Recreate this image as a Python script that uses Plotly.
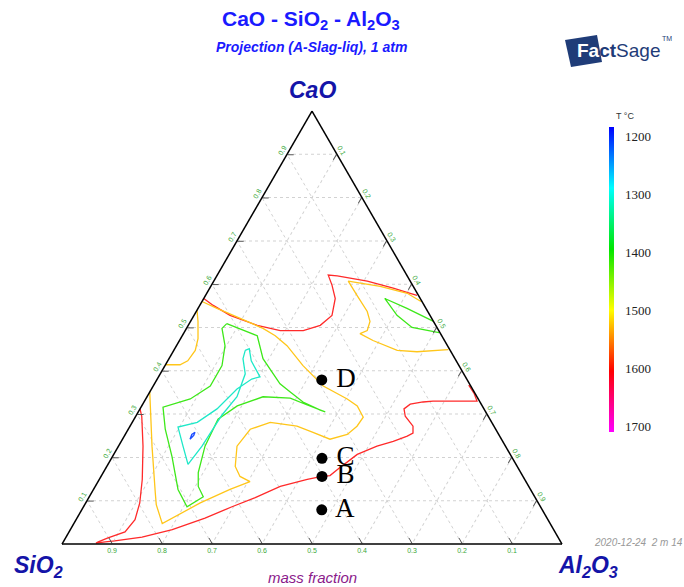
import plotly.graph_objects as go

# ---------------- data (mass fractions: CaO, Al2O3; SiO2 = 1 - CaO - Al2O3) -------------
iso1600_1_cao = [0.312, 0.295, 0.226, 0.149, 0.095, 0.056, 0.028, 0.014, 0.005, 0.002, 0.005, 0.007,
                 0.016, 0.033, 0.060, 0.086, 0.107, 0.133, 0.149, 0.156, 0.158, 0.177, 0.207, 0.226,
                 0.237, 0.249, 0.256, 0.272, 0.295, 0.312, 0.323, 0.328, 0.330, 0.330, 0.330, 0.347, 0.367]
iso1600_1_al2o3 = [0.000, 0.012, 0.049, 0.086, 0.108, 0.118, 0.112, 0.085, 0.070, 0.067, 0.084, 0.102,
                   0.152, 0.204, 0.256, 0.297, 0.333, 0.370, 0.416, 0.442, 0.457, 0.468, 0.487, 0.517,
                   0.544, 0.566, 0.574, 0.566, 0.539, 0.528, 0.535, 0.558, 0.577, 0.621, 0.665, 0.651, 0.630]

iso1600_2_cao = [0.567, 0.551, 0.528, 0.505, 0.493, 0.493, 0.505, 0.528, 0.567, 0.598, 0.621, 0.619,
                 0.607, 0.591, 0.579, 0.574]
iso1600_2_al2o3 = [0.000, 0.027, 0.072, 0.138, 0.190, 0.236, 0.264, 0.276, 0.263, 0.241, 0.222, 0.241,
                   0.307, 0.367, 0.407, 0.423]

iso1500_1_cao = [0.560, 0.579, 0.595, 0.607, 0.574, 0.537, 0.514, 0.493, 0.486, 0.470, 0.447, 0.444, 0.449]
iso1500_1_al2o3 = [0.438, 0.401, 0.339, 0.269, 0.303, 0.342, 0.359, 0.364, 0.353, 0.387, 0.447, 0.488, 0.548]

iso1500_2_cao = [0.560, 0.544, 0.521, 0.498, 0.481, 0.458, 0.412, 0.365, 0.335, 0.319, 0.293, 0.272,
                 0.253, 0.242, 0.258, 0.272, 0.281, 0.265, 0.226, 0.179, 0.156, 0.144, 0.126, 0.095,
                 0.047, 0.091, 0.119, 0.226, 0.351]
iso1500_2_al2o3 = [0.000, 0.038, 0.096, 0.153, 0.186, 0.221, 0.276, 0.340, 0.403, 0.431, 0.456, 0.454,
                   0.444, 0.415, 0.373, 0.334, 0.276, 0.244, 0.237, 0.257, 0.278, 0.304, 0.273, 0.229,
                   0.177, 0.143, 0.127, 0.067, 0.000]

iso1500_3_cao = [0.540, 0.514, 0.474, 0.447, 0.423, 0.414, 0.414]
iso1500_3_al2o3 = [0.000, 0.015, 0.035, 0.043, 0.040, 0.029, 0.000]

iso1400_1_cao = [0.514, 0.544, 0.567, 0.528, 0.500, 0.488]
iso1400_1_al2o3 = [0.486, 0.418, 0.362, 0.406, 0.450, 0.510]

iso1400_2_cao = [0.509, 0.498, 0.458, 0.412, 0.365, 0.335, 0.316, 0.265, 0.202, 0.126, 0.086, 0.109,
                 0.133, 0.165, 0.226, 0.288, 0.319, 0.340, 0.337, 0.321, 0.305, 0.309, 0.328, 0.351,
                 0.370, 0.428, 0.481, 0.509]
iso1400_2_al2o3 = [0.075, 0.071, 0.097, 0.114, 0.114, 0.089, 0.044, 0.074, 0.119, 0.169, 0.207, 0.228,
                   0.206, 0.190, 0.173, 0.168, 0.191, 0.232, 0.288, 0.330, 0.374, 0.362, 0.318, 0.281,
                   0.251, 0.188, 0.150, 0.075]

iso1300_cao = [0.447, 0.451, 0.423, 0.386, 0.381, 0.358, 0.312, 0.281, 0.270, 0.226, 0.184, 0.226,
               0.298, 0.340, 0.393, 0.428, 0.447]
iso1300_al2o3 = [0.143, 0.149, 0.167, 0.203, 0.189, 0.171, 0.154, 0.130, 0.097, 0.129, 0.160, 0.167,
                 0.171, 0.180, 0.170, 0.148, 0.143]

iso1200_cao = [0.242, 0.253, 0.258, 0.251, 0.242]
iso1200_al2o3 = [0.135, 0.133, 0.137, 0.138, 0.135]

point_labels = ["A", "B", "C", "D"]
point_cao = [0.079, 0.156, 0.198, 0.379]
point_al2o3 = [0.480, 0.442, 0.421, 0.330]

temp_ticks = [1200, 1300, 1400, 1500, 1600, 1700]
frac_ticks = [0.1, 0.2, 0.3, 0.4, 0.5, 0.6, 0.7, 0.8, 0.9]

# ---------------- styling -------------------------------------------------------------
iso_colors = {1600: "#ff2a2a", 1500: "#ffc61a", 1400: "#3ee81a", 1300: "#1ee8c8", 1200: "#1f4fff"}

isotherms = [
    (1600, iso1600_1_cao, iso1600_1_al2o3),
    (1600, iso1600_2_cao, iso1600_2_al2o3),
    (1500, iso1500_1_cao, iso1500_1_al2o3),
    (1500, iso1500_2_cao, iso1500_2_al2o3),
    (1500, iso1500_3_cao, iso1500_3_al2o3),
    (1400, iso1400_1_cao, iso1400_1_al2o3),
    (1400, iso1400_2_cao, iso1400_2_al2o3),
    (1300, iso1300_cao, iso1300_al2o3),
    (1200, iso1200_cao, iso1200_al2o3),
]

W, H = 684, 587

fig = go.Figure()

for T, cao, al in isotherms:
    sio2 = [round(1 - a - c, 4) for a, c in zip(cao, al)]
    fig.add_trace(go.Scatterternary(
        a=cao, b=sio2, c=al, mode="lines",
        line=dict(color=iso_colors[T], width=1.3),
        hoverinfo="skip", showlegend=False))

fig.add_trace(go.Scatterternary(
    a=point_cao, b=[1 - a - c for a, c in zip(point_cao, point_al2o3)], c=point_al2o3,
    mode="markers+text", text=[" " + t for t in point_labels],
    textposition="middle right",
    textfont=dict(family="Liberation Serif", size=27, color="black"),
    marker=dict(color="black", size=11),
    showlegend=False, hoverinfo="skip"))

# colour scale legend (negative values so that 1200 sits on top)
cb_top, cb_bottom = -1183, -1709
cscale = [[0.0, "#ff00ff"], [0.2, "#ff0000"], [0.3, "#ff8000"], [0.4, "#ffff00"],
          [0.6, "#00e600"], [0.8, "#00ffff"], [0.9, "#0080ff"], [1.0, "#0000ff"]]
fig.add_trace(go.Scatterternary(
    a=[0.5, 0.5], b=[0.25, 0.25], c=[0.25, 0.25], mode="markers",
    marker=dict(color=[cb_top, cb_bottom], colorscale=cscale,
                cmin=cb_bottom, cmax=cb_top, opacity=0, size=1,
                showscale=True,
                colorbar=dict(x=609 / W, xanchor="left", y=1 - 127 / H, yanchor="top",
                              len=305 / H, lenmode="fraction", thickness=5,
                              xpad=0, ypad=0, outlinewidth=0,
                              tickvals=[-t for t in temp_ticks],
                              ticktext=[str(t) for t in temp_ticks],
                              ticks="outside", ticklen=9, tickcolor="rgba(0,0,0,0)",
                              tickfont=dict(family="Liberation Serif", size=13, color="#222"))),
    showlegend=False, hoverinfo="skip"))

axis_common = dict(
    min=0, showline=True, linecolor="black", linewidth=1.5,
    showgrid=True, gridcolor="#d2d2d2", gridwidth=1, griddash="dot",
    tickvals=frac_ticks, ticktext=[f"{v:.1f}" for v in frac_ticks],
    ticks="inside", ticklen=6, tickcolor="#555", tickwidth=1,
    tickfont=dict(family="Arial", size=7, color="#3aa83a"),
    title=dict(text=""),
)

tern_x0, tern_x1 = 62, 562
tern_y_bottom, tern_y_top = 544, 111

fig.update_layout(
    width=W, height=H,
    margin=dict(l=0, r=0, t=0, b=0),
    paper_bgcolor="white",
    ternary=dict(
        sum=1,
        bgcolor="white",
        domain=dict(x=[tern_x0 / W, tern_x1 / W],
                    y=[(H - tern_y_bottom) / H, (H - tern_y_top) / H]),
        aaxis=dict(axis_common, tickangle=-60),
        baxis=dict(axis_common, tickangle=0),
        caxis=dict(axis_common, tickangle=60),
    ),
)

def px(x, y):
    return x / W, 1 - y / H

annots = [
    (311, 20, "<b>CaO - SiO<sub>2</sub> - Al<sub>2</sub>O<sub>3</sub></b>",
     dict(family="Arial", size=21, color="#1a1aff"), "center"),
    (311, 47, "<b><i>Projection (A-Slag-liq), 1 atm</i></b>",
     dict(family="Arial", size=14, color="#1a1aff"), "center"),
    (312, 90, "<b><i>CaO</i></b>", dict(family="Arial", size=23, color="#1414a8"), "center"),
    (38, 566, "<b><i>SiO<sub>2</sub></i></b>", dict(family="Arial", size=23, color="#1414a8"), "center"),
    (588, 566, "<b><i>Al<sub>2</sub>O<sub>3</sub></i></b>", dict(family="Arial", size=23, color="#1414a8"), "center"),
    (312, 577, "<i>mass fraction</i>", dict(family="Arial", size=15, color="#8b1a8b"), "center"),
    (592, 542, "<i>2020-12-24  2 m 14 s</i>", dict(family="Arial", size=10, color="#999"), "left"),
    (625, 116, "T °C", dict(family="Arial", size=9, color="#333"), "center"),
    (575, 51, "<b><span style='color:white'>Fa</span>ct</b>Sage",
     dict(family="Arial", size=19, color="#1f3c78"), "left"),
    (660, 38, "TM", dict(family="Arial", size=7, color="#1f3c78"), "left"),
]
for x, y, txt, font, anchor in annots:
    ax, ay = px(x, y)
    fig.add_annotation(x=ax, y=ay, xref="paper", yref="paper", text=txt, showarrow=False,
                       font=font, xanchor=anchor, yanchor="middle")

# FactSage logo square
p = [px(565, 40), px(597, 35), px(602, 62), px(571, 67)]
fig.add_shape(type="path", xref="paper", yref="paper",
              path="M {} {} L {} {} L {} {} L {} {} Z".format(*[v for pt in p for v in pt]),
              fillcolor="#1f3c78", line=dict(width=0), layer="below")

fig.write_html("out.html", config={"displayModeBar": False},
               post_script="document.body.style.margin='0';document.body.style.overflow='hidden';")
